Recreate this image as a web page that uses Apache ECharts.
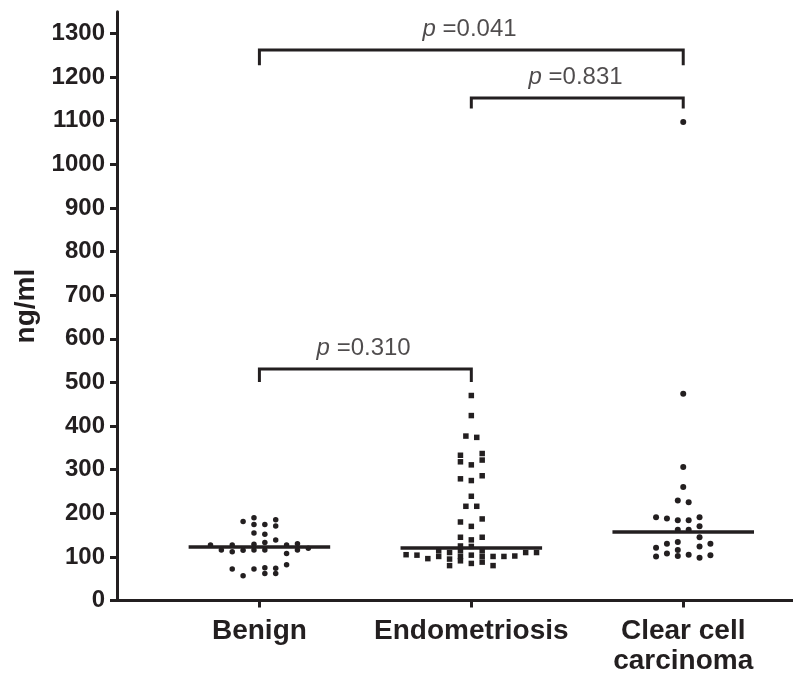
<!DOCTYPE html>
<html>
<head>
<meta charset="utf-8">
<script src="https://cdn.jsdelivr.net/npm/echarts@6/dist/echarts.min.js"></script>
<style>html,body{margin:0;padding:0;background:#fff}#c{width:793px;height:677px}</style>
</head>
<body>
<div id="c"></div>
<script>
// ---- data ----
const categories = ['Benign', 'Endometriosis', 'Clear cell\ncarcinoma'];
const yTicks = [0,100,200,300,400,500,600,700,800,900,1000,1100,1200,1300];

// values (ng/ml) and jitter column (in dot-widths) of each point
const benignValues = [190,181,185,174,174,171,155,152,139,133,129,127,127,127,130,116,112,115,116,116,116,120,108,72,72,75,74,62,62,82,57];
const benignCols   = [-0.5,-1.5,1.5,-0.5,0.5,1.5,-0.5,0.5,1.5,0.5,-0.5,-4.5,-2.5,2.5,3.5,-3.5,-2.5,-1.5,-0.5,0.5,3.5,4.5,2.5,-2.5,-0.5,0.5,1.5,0.5,1.5,2.5,-1.5];

const endoValues = [470,424,377,374,333,337,318,322,311,279,275,286,239,216,216,187,180,170,145,145,139,125,124,105,104,96,114,101,110,95,80,114,101,91,104,85,114,101,88,101,80,101,102,110,110];
const endoCols   = [0,0,-0.5,0.5,-1,1,-1,1,0,-1,0,1,0,-0.5,0.5,1,-1,0,-1,1,0,-1,0,-6,-5,-4,-3,-3,-2,-2,-2,-1,-1,-1,0,0,1,1,1,2,2,3,4,5,6];

const clearValues = [1097,474,306,260,229,225,191,188,184,184,191,170,162,162,145,134,130,130,121,116,124,101,108,102,105,98,104];
const clearCols   = [0,0,0,0,-0.5,0.5,-2.5,-1.5,-0.5,0.5,1.5,1.5,-0.5,0.5,1.5,-0.5,-1.5,2.5,-2.5,-0.5,1.5,-2.5,-1.5,-0.5,0.5,1.5,2.5];

const medians = [124, 121, 158];

// comparisons: [group a, group b], bracket top value, bracket end value, p
const compPairs = [[1,3],[2,3],[1,2]];
const compTops  = [1262, 1152, 531];
const compEnds  = [1227, 1128, 501];
const pValues   = ['0.041', '0.831', '0.310'];

// ---- chart ----
const ink = '#231f20';
const font = 'Liberation Sans, Arial, Helvetica, sans-serif';
const colStep = 0.0513;
const medHalf = 0.334;

function pts(vals, cols, g) {
  return vals.map((v, i) => [g + cols[i] * colStep, v]);
}

const chart = echarts.init(document.getElementById('c'), null, {renderer: 'canvas'});
chart.setOption({
  animation: false,
  backgroundColor: '#fff',
  grid: {left: 117, right: 0, top: 11.7, bottom: 76.5, containLabel: false, outerBoundsMode: 'none'},
  xAxis: {
    type: 'value', min: 0.328, max: 3.518,
    splitLine: {show: false},
    axisLine: {show: true, onZero: false, lineStyle: {color: ink, width: 3}},
    axisTick: {show: true, length: 7, lineStyle: {color: ink, width: 3}, customValues: [1,2,3]},
    axisLabel: {
      customValues: [1,2,3], margin: 16,
      formatter: v => categories[Math.round(v) - 1],
      fontFamily: font, fontWeight: 'bold', fontSize: 28, lineHeight: 30, color: ink
    }
  },
  yAxis: {
    type: 'value', min: 0, max: 1350,
    name: 'ng/ml', nameLocation: 'middle', nameRotate: 90, nameGap: 74,
    nameTextStyle: {fontFamily: font, fontWeight: 'bold', fontSize: 28, color: ink},
    splitLine: {show: false},
    axisLine: {show: true, lineStyle: {color: ink, width: 3}},
    axisTick: {show: true, length: 7, lineStyle: {color: ink, width: 3}, customValues: yTicks},
    axisLabel: {customValues: yTicks, margin: 12, formatter: v => String(v), fontFamily: font, fontWeight: 'bold', fontSize: 24, color: ink}
  },
  series: [
    {type: 'scatter', symbol: 'circle', symbolSize: 5.5, itemStyle: {color: ink, opacity: 1}, data: pts(benignValues, benignCols, 1), z: 3},
    {type: 'scatter', symbol: 'rect', symbolSize: 5.5, itemStyle: {color: ink, opacity: 1}, data: pts(endoValues, endoCols, 2), z: 3},
    {type: 'scatter', symbol: 'circle', symbolSize: 6, itemStyle: {color: ink, opacity: 1}, data: pts(clearValues, clearCols, 3), z: 3},
    {
      type: 'lines', coordinateSystem: 'cartesian2d', z: 4,
      lineStyle: {color: ink, width: 3.5, opacity: 1},
      data: medians.map((m, i) => ({coords: [[i + 1 - medHalf, m], [i + 1 + medHalf, m]]}))
    },
    {
      type: 'lines', coordinateSystem: 'cartesian2d', polyline: true, z: 4,
      lineStyle: {color: ink, width: 3, opacity: 1, join: 'miter', cap: 'butt'},
      data: compPairs.map((p, i) => ({coords: [[p[0], compEnds[i]], [p[0], compTops[i]], [p[1], compTops[i]], [p[1], compEnds[i]]]}))
    },
    {
      type: 'scatter', symbolSize: 0, z: 5, silent: true,
      data: compPairs.map((p, i) => ({value: [(p[0] + p[1]) / 2 - 0.008, compTops[i]]})),
      label: {
        show: true, position: 'top', distance: 9,
        formatter: prm => '{i|p}{n| =' + pValues[prm.dataIndex] + '}',
        rich: {
          i: {fontFamily: font, fontStyle: 'italic', fontSize: 24, color: ink},
          n: {fontFamily: font, fontSize: 24, color: ink}
        }
      }
    }
  ]
});
</script>
</body>
</html>
